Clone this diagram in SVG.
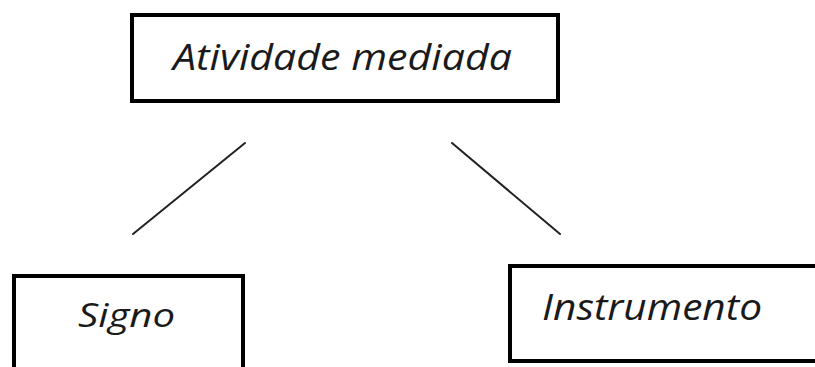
<svg xmlns="http://www.w3.org/2000/svg" width="815" height="367" viewBox="0 0 815 367">
  <style>
    .box { fill: #ffffff; stroke: #000000; stroke-width: 4; }
    .label { font-family: "Open Sans", "Liberation Sans", sans-serif; font-style: italic; fill: #1a1a1a; }
    .link { stroke: #222222; stroke-width: 2; stroke-linecap: round; fill: none; }
  </style>
  <rect width="815" height="367" fill="#ffffff"/>

  <g id="connectors">
    <line class="link" x1="245" y1="143" x2="133" y2="234"/>
    <line class="link" x1="452" y1="143" x2="560" y2="234"/>
  </g>

  <g id="atividade-mediada">
    <rect class="box" x="132" y="15" width="426" height="86"/>
    <text class="label" x="173" y="70" font-size="37" textLength="339" lengthAdjust="spacingAndGlyphs">Atividade mediada</text>
  </g>

  <g id="signo">
    <rect class="box" x="14" y="276" width="229" height="110"/>
    <text class="label" x="78" y="327" font-size="33" textLength="97" lengthAdjust="spacingAndGlyphs">Signo</text>
  </g>

  <g id="instrumento">
    <rect class="box" x="510" y="266" width="330" height="95"/>
    <text class="label" x="542" y="320" font-size="37" textLength="220" lengthAdjust="spacingAndGlyphs">Instrumento</text>
  </g>
</svg>
